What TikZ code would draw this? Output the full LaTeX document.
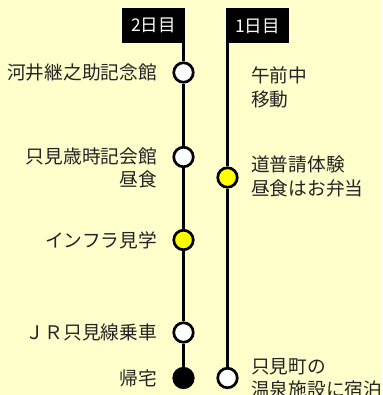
\documentclass[tikz,border=0pt]{standalone}
\usepackage{fontspec}
\newfontfamily\jp{Noto Sans CJK JP}
\definecolor{bg}{RGB}{255,255,204}
\definecolor{stopyel}{RGB}{255,255,0}
\definecolor{txt}{RGB}{35,35,35}
\begin{document}
\begin{tikzpicture}[x=1pt,y=-1pt,
  dayhead/.style={fill=black,text=white,minimum width=63pt,minimum height=35pt,inner sep=0pt,font=\jp\fontsize{17.5}{19}\selectfont},
  stopw/.style={circle,draw=black,line width=2.7pt,fill=white,minimum size=19.5pt,inner sep=0pt},
  stopy/.style={stopw,fill=stopyel},
  stopb/.style={stopw,fill=black},
  track/.style={line width=2.7pt,black},
  lbl/.style={inner sep=0pt,text=txt,font=\jp\fontsize{18.7}{23.5}\selectfont},
  lleft/.style={lbl,anchor=east,align=right},
  lright/.style={lbl,anchor=west,align=left}]
\useasboundingbox (0,0) rectangle (382,395);
\fill[bg] (0,0) rectangle (382,395);
\clip (0,0) rectangle (382,395);
% headers
\node[dayhead] (d2) at (153.5,25.5) {2日目};
\node[dayhead] (d1) at (257.5,26) {1日目};
\coordinate (d2b) at (183.5,43);
\coordinate (d1b) at (227.5,43);
% day 2 stops
\node[stopw] (s1) at (183.5,72.5) {};
\node[stopw] (s2) at (183.5,157) {};
\node[stopy] (s3) at (183.5,240) {};
\node[stopw] (s4) at (183.5,332.5) {};
\node[stopb] (s5) at (183.5,378) {};
% day 1 stops
\node[stopy] (t1) at (227.5,177.5) {};
\node[stopw] (t2) at (227.5,378) {};
% tracks
\draw[track] (d2b) -- (s1);
\draw[track] (s1) -- (s2);
\draw[track] (s2) -- (s3);
\draw[track] (s3) -- (s4);
\draw[track] (s4) -- (s5);
\draw[track] (d1b) -- (t1);
\draw[track] (t1) -- (t2);
% labels day 2
\node[lleft] (l1) at (157,72.5) {河井継之助記念館};
\node[lleft] (l2) at (157,168) {只見歳時記会館\\昼食};
\node[lleft] (l3) at (157,240) {インフラ見学};
\node[lleft] (l4) at (157,332.5) {ＪＲ只見線乗車};
\node[lleft] (l5) at (157,378) {帰宅};
% labels day 1
\node[lright] (r1) at (251,87.5) {午前中\\移動};
\node[lright] (r2) at (251,176.5) {道普請体験\\昼食はお弁当};
\node[lright] (r3) at (251,378) {只見町の\\温泉施設に宿泊};
\end{tikzpicture}
\end{document}
